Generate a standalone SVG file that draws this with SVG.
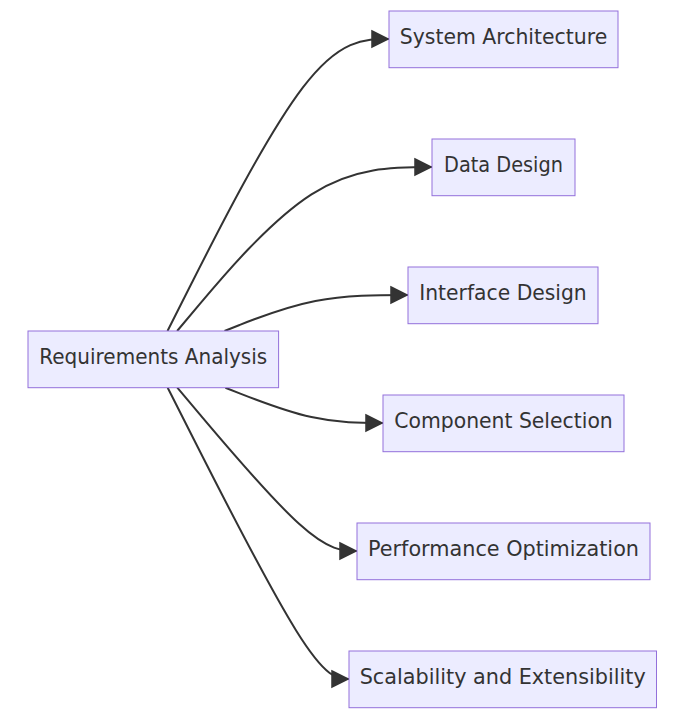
<svg xmlns="http://www.w3.org/2000/svg" width="685" height="719" viewBox="0 0 685 719">
<style>
.node rect{fill:#ECECFF;stroke:#9370DB;stroke-width:1}
.node text{font-family:"DejaVu Sans",Verdana,Arial,sans-serif;font-size:21px;fill:#333333;text-anchor:middle}
.edge{fill:none;stroke:#333333;stroke-width:2}
</style>
<defs>
<marker id="arrow" viewBox="0 0 10 10" refX="10.6" refY="5" markerUnits="userSpaceOnUse" markerWidth="16" markerHeight="16" orient="auto" overflow="visible">
<path d="M0,0 L10,5 L0,10 z" fill="#333333" stroke="#333333" stroke-width="1"/>
</marker>
</defs>
<rect width="685" height="719" fill="#ffffff"/>
<g id="connectors">
<path class="edge" marker-end="url(#arrow)" d="M167.5,331 L192.1,282.3 C216.7,233.7 265.8,136.3 302.75,87.67 C339.7,39 364.3,39 389,39"/>
<path class="edge" marker-end="url(#arrow)" d="M177.1,331 L200.1,303.7 C223.1,276.3 269,221.7 311.5,194.3 C354,167 393,167 432,167"/>
<path class="edge" marker-end="url(#arrow)" d="M224.5,331 L239.6,325 C254.7,319 284.8,307 315.4,301 C346,295 377,295 408,295"/>
<path class="edge" marker-end="url(#arrow)" d="M225.4,387.7 L240.3,393.6 C255.3,399.5 285.1,411.2 311.4,417.1 C337.7,423 360.3,423 383,423"/>
<path class="edge" marker-end="url(#arrow)" d="M177.3,387.7 L200.25,414.9 C223.2,442.1 269.1,496.6 299.05,523.8 C329,551 343,551 357,551"/>
<path class="edge" marker-end="url(#arrow)" d="M167.7,387.7 L192.25,436.25 C216.8,484.8 265.9,581.9 296.1,630.45 C326.3,679 337.7,679 349,679"/>
</g>
<g id="node-requirements" class="node">
<rect x="28" y="331" width="250.6" height="56.7"/>
<text x="153.3" y="363.6" textLength="228" lengthAdjust="spacingAndGlyphs">Requirements Analysis</text>
</g>
<g id="node-system-architecture" class="node">
<rect x="389" y="11" width="229" height="56.7"/>
<text x="503.5" y="43.6" textLength="207.5" lengthAdjust="spacingAndGlyphs">System Architecture</text>
</g>
<g id="node-data-design" class="node">
<rect x="432" y="139" width="143" height="56.7"/>
<text x="503.5" y="171.6" textLength="119" lengthAdjust="spacingAndGlyphs">Data Design</text>
</g>
<g id="node-interface-design" class="node">
<rect x="408" y="267" width="190" height="56.7"/>
<text x="503" y="299.6" textLength="167.5" lengthAdjust="spacingAndGlyphs">Interface Design</text>
</g>
<g id="node-component-selection" class="node">
<rect x="383" y="395" width="241" height="56.7"/>
<text x="503.5" y="427.6" textLength="218.5" lengthAdjust="spacingAndGlyphs">Component Selection</text>
</g>
<g id="node-performance-optimization" class="node">
<rect x="357" y="523" width="293" height="56.7"/>
<text x="503.5" y="555.6" textLength="271" lengthAdjust="spacingAndGlyphs">Performance Optimization</text>
</g>
<g id="node-scalability" class="node">
<rect x="349" y="651" width="307.5" height="56.7"/>
<text x="502.7" y="683.6" textLength="286" lengthAdjust="spacingAndGlyphs">Scalability and Extensibility</text>
</g>
</svg>
